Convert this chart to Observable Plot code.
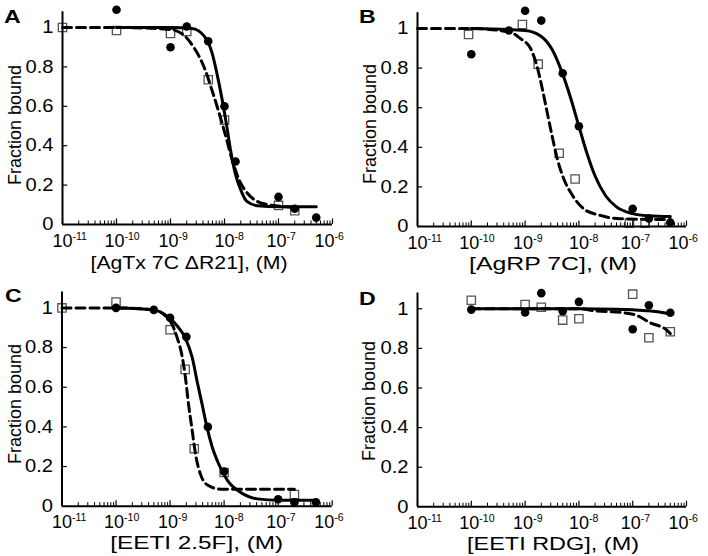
<!DOCTYPE html>
<html>
<head>
<meta charset="utf-8">
<script src="https://cdn.jsdelivr.net/npm/d3@7"></script>
<script src="https://cdn.jsdelivr.net/npm/@observablehq/plot@0.6"></script>
<style>
  html, body { margin: 0; padding: 0; background: #fff; }
  #wrap { position: relative; width: 708px; height: 556px; overflow: hidden; font-family: "Liberation Sans", Arial, sans-serif; }
  .panel { position: absolute; width: 354px; height: 278px; }
  .panel svg { overflow: visible; display: block; }
</style>
</head>
<body>
<div id="wrap"></div>
<script>
// ---------- text ----------
const panelLetters = ["A", "B", "C", "D"];
const xLabels = ["[AgTx 7C \u0394R21], (M)", "[AgRP 7C], (M)", "[EETI 2.5F], (M)", "[EETI RDG], (M)"];
const yLabel = "Fraction bound";
const yTicks = [0, 0.2, 0.4, 0.6, 0.8, 1];
const xDecades = [1e-11, 1e-10, 1e-9, 1e-8, 1e-7, 1e-6];

// ---------- panel A ----------
const aCircleX = [1e-10, 1e-9, 2e-9, 5e-9, 1e-8, 1.6e-8, 1e-7, 2e-7, 5e-7];
const aCircleY = [1.09, 0.90, 1.005, 0.93, 0.60, 0.32, 0.14, 0.08, 0.035];
const aSquareX = [1e-11, 1e-10, 1e-9, 2e-9, 5e-9, 1e-8, 1e-7, 2e-7];
const aSquareY = [1.0, 0.985, 0.97, 0.98, 0.735, 0.53, 0.097, 0.07];
const aSolidX = [1e-10, 1e-9, 2.5e-9, 4.1e-9, 5.9e-9, 7.2e-9, 9.1e-9, 1.1e-8, 1.29e-8, 1.58e-8, 2.0e-8, 2.6e-8, 4.1e-8, 1e-7, 5e-7];
const aSolidY = [1.0, 1.0, 0.995, 0.96, 0.87, 0.77, 0.63, 0.50, 0.38, 0.26, 0.176, 0.117, 0.095, 0.09, 0.09];
const aDashX = [1e-11, 1e-10, 1e-9, 1.78e-9, 2.69e-9, 4.17e-9, 5.89e-9, 7.76e-9, 1.05e-8, 1.38e-8, 1.86e-8, 2.63e-8, 4.07e-8, 6.6e-8, 2e-7];
const aDashY = [1.0, 1.0, 0.99, 0.96, 0.90, 0.80, 0.68, 0.575, 0.45, 0.33, 0.227, 0.16, 0.117, 0.10, 0.088];

// ---------- panel B ----------
const bCircleX = [1e-10, 5e-10, 1e-9, 2e-9, 5e-9, 1e-8, 1e-7, 2e-7, 5e-7];
const bCircleY = [0.87, 0.99, 1.09, 1.04, 0.774, 0.506, 0.09, 0.04, 0.02];
const bSquareX = [8.9e-11, 8.9e-10, 1.75e-9, 4.3e-9, 8.5e-9, 8.7e-8, 1.7e-7];
const bSquareY = [0.97, 1.02, 0.82, 0.37, 0.24, 0.017, 0.017];
const bSolidX = [1e-10, 1e-9, 2e-9, 3.16e-9, 4.9e-9, 7e-9, 1e-8, 1.41e-8, 2e-8, 3.16e-8, 5e-8, 1e-7, 2e-7, 5e-7];
const bSolidY = [1.0, 0.99, 0.96, 0.895, 0.776, 0.65, 0.506, 0.37, 0.255, 0.154, 0.099, 0.065, 0.054, 0.05];
const bDashX = [1e-11, 1e-10, 5.4e-10, 8.1e-10, 1.26e-9, 1.66e-9, 2.09e-9, 2.57e-9, 3.16e-9, 3.98e-9, 5.25e-9, 7.6e-9, 1.23e-8, 2.5e-8, 5.9e-8, 5e-7];
const bDashY = [1.0, 1.0, 0.98, 0.95, 0.90, 0.81, 0.695, 0.577, 0.46, 0.34, 0.24, 0.157, 0.089, 0.056, 0.039, 0.035];

// ---------- panel C ----------
const cCircleX = [1e-10, 5e-10, 1e-9, 2e-9, 5e-9, 1e-8, 1e-7, 2e-7, 5e-7];
const cCircleY = [1.0, 0.99, 0.95, 0.854, 0.40, 0.175, 0.035, 0.02, 0.02];
const cSquareX = [1e-11, 1e-10, 1e-9, 1.9e-9, 2.8e-9, 1e-8, 2e-7];
const cSquareY = [1.0, 1.03, 0.89, 0.69, 0.29, 0.17, 0.059];
const cSolidX = [1e-10, 5e-10, 8.7e-10, 1.35e-9, 1.9e-9, 2.57e-9, 3.16e-9, 3.9e-9, 4.8e-9, 6e-9, 7.9e-9, 1.15e-8, 2e-8, 4.1e-8, 1e-7, 5e-7];
const cSolidY = [1.0, 0.99, 0.96, 0.91, 0.85, 0.75, 0.63, 0.516, 0.40, 0.30, 0.214, 0.13, 0.07, 0.037, 0.03, 0.03];
const cDashX = [1e-11, 1e-10, 5e-10, 1.02e-9, 1.35e-9, 1.66e-9, 1.9e-9, 2.19e-9, 2.57e-9, 2.95e-9, 3.63e-9, 5.1e-9, 8.5e-9, 2e-7];
const cDashY = [1.0, 1.0, 0.99, 0.93, 0.85, 0.76, 0.66, 0.516, 0.38, 0.264, 0.163, 0.104, 0.086, 0.085];

// ---------- panel D ----------
const dCircleX = [1e-10, 1e-9, 2e-9, 5e-9, 1e-8, 1e-7, 2e-7, 5e-7];
const dCircleY = [0.996, 0.981, 1.079, 0.988, 1.035, 0.897, 1.018, 0.98];
const dSquareX = [1e-10, 1e-9, 2e-9, 5e-9, 1e-8, 1e-7, 2e-7, 5e-7];
const dSquareY = [1.043, 1.022, 1.008, 0.943, 0.95, 1.074, 0.854, 0.884];
const dSolidX = [1e-10, 1e-8, 5e-8, 1e-7, 2e-7, 5e-7];
const dSolidY = [1.0, 1.0, 0.998, 0.995, 0.99, 0.975];
const dDashX = [1e-10, 1e-8, 1.9e-8, 6.8e-8, 1.2e-7, 2.1e-7, 4.4e-7, 5e-7];
const dDashY = [1.0, 1.0, 0.99, 0.98, 0.966, 0.93, 0.89, 0.875];

// ---------- assembly ----------
const series = [
  {cx: aCircleX, cy: aCircleY, sx: aSquareX, sy: aSquareY, lx: aSolidX, ly: aSolidY, dx: aDashX, dy: aDashY},
  {cx: bCircleX, cy: bCircleY, sx: bSquareX, sy: bSquareY, lx: bSolidX, ly: bSolidY, dx: bDashX, dy: bDashY},
  {cx: cCircleX, cy: cCircleY, sx: cSquareX, sy: cSquareY, lx: cSolidX, ly: cSolidY, dx: cDashX, dy: cDashY},
  {cx: dCircleX, cy: dCircleY, sx: dSquareX, sy: dSquareY, lx: dSolidX, ly: dSolidY, dx: dDashX, dy: dDashY}
];

// layout of each panel (pixels inside its 354x278 cell)
const layout = [
  {ml: 62,   mr: 22,   y0: 224,   unit: 197,   letX: 4, letY: 23,   xlX: 189,   xlY: 268.5, xlW: 197, ylX: 20.7, ylY: 125},
  {ml: 63,   mr: 22,   y0: 226,   unit: 198,   letX: 5, letY: 23.3, xlX: 199,   xlY: 270,   xlW: 168, ylX: 21.7, ylY: 124},
  {ml: 61.5, mr: 22.3, y0: 227.7, unit: 198.3, letX: 5, letY: 24,   xlX: 196.7, xlY: 271,   xlW: 173, ylX: 20.7, ylY: 126},
  {ml: 63,   mr: 22,   y0: 228.3, unit: 198,   letX: 5, letY: 27,   xlX: 199,   xlY: 271.5, xlW: 172, ylX: 20.7, ylY: 123}
];
// horizontal nudge of each decade label relative to its tick, as in the reference
const xLabelShift = [0, -2, -2, 0, -2, -8];

const W = 354, H = 278, YMAX = 1.08;
const FONT = "'Liberation Sans', Arial, Helvetica, sans-serif";
const minorTicks = xDecades.slice(0, -1).flatMap(d => [2, 3, 4, 5, 6, 7, 8, 9].map(m => m * d));

function stretch(el, sx) {
  const tr = el.getAttribute("transform");
  if (tr) el.setAttribute("transform", tr + ` scale(${sx},1)`);
}

const wrap = document.getElementById("wrap");

series.forEach((s, i) => {
  const L = layout[i];
  const circles = s.cx.map((x, j) => ({x, y: s.cy[j]}));
  const squares = s.sx.map((x, j) => ({x, y: s.sy[j]}));
  const solid = s.lx.map((x, j) => ({x, y: s.ly[j]}));
  const dashed = s.dx.map((x, j) => ({x, y: s.dy[j]}));
  const mb = H - L.y0;
  const mt = H - mb - YMAX * L.unit;

  const svgEl = Plot.plot({
    width: W, height: H,
    marginLeft: L.ml, marginRight: L.mr, marginTop: mt, marginBottom: mb,
    x: {type: "log", domain: [1e-11, 1e-6]},
    y: {domain: [0, YMAX]},
    style: {fontFamily: FONT, fontSize: "18px", color: "#000", background: "#fff", overflow: "visible"},
    marks: [
      Plot.dot(squares, {x: "x", y: "y", symbol: "square", r: 4.7, fill: "white", stroke: "#555", strokeWidth: 1.3}),
      Plot.line(solid, {x: "x", y: "y", stroke: "#000", strokeWidth: 3, curve: "monotone-x"}),
      Plot.line(dashed, {x: "x", y: "y", stroke: "#000", strokeWidth: 3, strokeDasharray: "9,5", curve: "monotone-x"}),
      Plot.dot(circles, {x: "x", y: "y", r: 4.3, fill: "#000"}),
      Plot.ruleX(minorTicks, {y1: 0, y2: 0.018, stroke: "#000", strokeWidth: 1}),
      Plot.ruleX(xDecades, {y1: 0, y2: 0.028, stroke: "#000", strokeWidth: 1.2}),
      Plot.ruleY(yTicks.filter(d => d > 0), {x1: 1e-11, x2: 1.25e-11, stroke: "#000", strokeWidth: 1.2}),
      Plot.ruleY([0], {x1: 1e-11, x2: 1e-6, stroke: "#000", strokeWidth: 2}),
      Plot.ruleX([1e-11], {y1: 0, y2: YMAX, stroke: "#000", strokeWidth: 2}),
      Plot.axisX({ticks: xDecades, tickSize: 0, tickPadding: 9.5, label: null,
                  tickFormat: d => String(Math.round(Math.log10(d)))}),
      Plot.axisY({ticks: yTicks, tickSize: 0, tickPadding: 9, label: null,
                  tickFormat: d => String(d)})
    ]
  });

  const svg = d3.select(svgEl);
  // x tick labels: "10" centred on the tick with a superscript exponent
  svg.selectAll('g[aria-label="x-axis tick label"] text').each(function (d, k) {
    const exp = this.textContent;
    const t = d3.select(this);
    t.text(null).attr("text-anchor", "start");
    t.append("tspan").attr("dx", -10 + xLabelShift[k]).text("10");
    t.append("tspan").attr("font-size", 10.5).attr("dy", -7).text(exp);
  });
  svg.selectAll('g[aria-label="y-axis tick label"] text').each(function () { stretch(this, 1.12); });

  // panel letter
  svg.append("text")
    .attr("transform", `translate(${L.letX},${L.letY}) scale(1.25,1)`)
    .attr("text-anchor", "start")
    .attr("font-family", FONT).attr("font-size", 18.5).attr("font-weight", "bold")
    .attr("fill", "#000").text(panelLetters[i]);
  // x label
  svg.append("text")
    .attr("x", L.xlX).attr("y", L.xlY)
    .attr("font-family", FONT).attr("font-size", 18.5).attr("text-anchor", "middle")
    .attr("textLength", L.xlW).attr("lengthAdjust", "spacingAndGlyphs")
    .attr("fill", "#000").text(xLabels[i]);
  // y label
  svg.append("text")
    .attr("transform", `translate(${L.ylX},${L.ylY}) rotate(-90)`)
    .attr("font-family", FONT).attr("font-size", 18).attr("text-anchor", "middle")
    .attr("textLength", 120).attr("lengthAdjust", "spacingAndGlyphs")
    .attr("fill", "#000").text(yLabel);

  const div = document.createElement("div");
  div.className = "panel";
  div.style.left = (i % 2) * W + "px";
  div.style.top = Math.floor(i / 2) * H + "px";
  div.appendChild(svgEl);
  wrap.appendChild(div);
});
</script>
</body>
</html>
